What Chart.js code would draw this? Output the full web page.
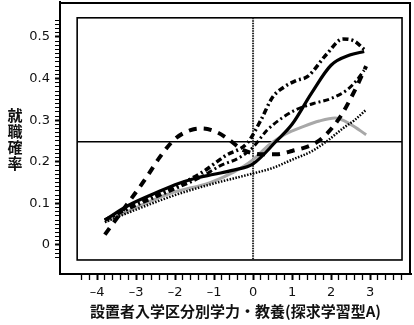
<!DOCTYPE html>
<html>
<head>
<meta charset="utf-8">
<script src="https://cdn.jsdelivr.net/npm/chart.js@4"></script>
<style>
  html, body { margin: 0; padding: 0; background: #fff; }
  #wrap { width: 414px; height: 325px; }
</style>
</head>
<body>
<div id="wrap"><canvas id="chart"></canvas></div>
<script>
/* series (x = 学力, y = 確率) */
const solidX   = [-3.8, -3.2, -2.5, -2, -1.5, -1, -0.5, 0, 0.6, 1, 1.5, 2, 2.5, 2.85];
const solidY   = [0.06, 0.095, 0.125, 0.145, 0.16, 0.17, 0.18, 0.195, 0.25, 0.29, 0.365, 0.432, 0.457, 0.465];

const dashDotX = [-3.8, -3, -2, -1.3, -0.7, -0.15, 0.2, 0.5, 0.8, 1.1, 1.4, 1.9, 2.3, 2.6, 2.85];
const dashDotY = [0.06, 0.1, 0.14, 0.175, 0.215, 0.245, 0.3, 0.355, 0.38, 0.395, 0.405, 0.46, 0.495, 0.49, 0.47];

const dashX    = [-3.8, -3.15, -2.75, -2.4, -2, -1.6, -1.3, -0.9, -0.6, -0.25, 0.25, 0.6, 1.0, 1.6, 1.9, 2.25, 2.6, 2.9];
const dashY    = [0.025, 0.108, 0.16, 0.21, 0.255, 0.276, 0.28, 0.27, 0.252, 0.228, 0.218, 0.218, 0.226, 0.245, 0.268, 0.31, 0.37, 0.43];

const dashDot2X = [-3.8, -3, -2, -1.3, -0.85, -0.35, 0, 0.35, 0.77, 1.1, 1.55, 2, 2.4, 2.65, 2.85];
const dashDot2Y = [0.06, 0.095, 0.135, 0.165, 0.19, 0.21, 0.235, 0.275, 0.307, 0.325, 0.34, 0.352, 0.372, 0.395, 0.42];

const dottedX  = [-3.8, -3, -2, -1, -0.5, 0, 0.5, 1, 1.5, 1.9, 2.3, 2.6, 2.9];
const dottedY  = [0.055, 0.085, 0.12, 0.148, 0.16, 0.172, 0.185, 0.205, 0.225, 0.25, 0.28, 0.3, 0.325];

const grayX    = [-3.8, -3, -2.1, -1.1, -0.5, 0, 0.4, 0.8, 1.3, 1.7, 2.1, 2.5, 2.9];
const grayY    = [0.055, 0.09, 0.125, 0.15, 0.175, 0.205, 0.24, 0.265, 0.285, 0.298, 0.305, 0.29, 0.265];

const xTickLabels = [-4, -3, -2, -1, 0, 1, 2, 3];
const yTickLabels = [0, 0.1, 0.2, 0.3, 0.4, 0.5];

const xTitle = "設置者入学区分別学力・教養(探求学習型A)";
const yTitle = "就職確率";

/* inner box and reference lines, in data units */
const boxX = [-4.51, 3.82];
const boxY = [-0.036, 0.546];
const refX = 0;
const refY = 0.248;

const pts = (xs, ys) => xs.map((x, i) => ({ x, y: ys[i] }));
const isMajor = (v, list) => list.some(t => Math.abs(t - v) < 1e-6);

/* ---------- plugin: frame, inner box, cross lines, vertical y title ---------- */
const frames = {
  id: "frames",
  beforeDatasetsDraw(chart) {
    const { ctx, chartArea: a, scales: { x, y } } = chart;
    ctx.save();
    ctx.strokeStyle = "#000";
    ctx.lineWidth = 2;
    ctx.strokeRect(a.left, a.top + 1, a.right - a.left - 1, a.bottom - a.top - 1);

    const l = x.getPixelForValue(boxX[0]), r = x.getPixelForValue(boxX[1]);
    const t = y.getPixelForValue(boxY[1]), b = y.getPixelForValue(boxY[0]);
    ctx.lineWidth = 1.6;
    ctx.strokeRect(l, t, r - l, b - t);

    // horizontal reference
    const hy = y.getPixelForValue(refY);
    ctx.beginPath(); ctx.moveTo(l, hy); ctx.lineTo(r, hy); ctx.stroke();

    // vertical reference (stippled)
    const vx = x.getPixelForValue(refX);
    ctx.strokeStyle = "#222";
    ctx.lineWidth = 2;
    ctx.setLineDash([1.5, 1]);
    ctx.beginPath(); ctx.moveTo(vx, t); ctx.lineTo(vx, b); ctx.stroke();
    ctx.restore();
  },
  afterDraw(chart) {
    const { ctx } = chart;
    ctx.save();
    ctx.fillStyle = "#111";
    ctx.font = "bold 15px 'Noto Sans CJK JP'";
    ctx.textAlign = "center";
    ctx.textBaseline = "middle";
    [...yTitle].forEach((ch, i) => ctx.fillText(ch, 15, 115 + i * 16));
    ctx.restore();
  }
};

function makeTicks(from, to, step) {
  const out = [];
  const n = Math.round((to - from) / step);
  for (let i = 0; i <= n; i++) out.push({ value: +(from + i * step).toFixed(4) });
  return out;
}

function noPad(s) {
  s.paddingTop = 0; s.paddingBottom = 0;
  s.paddingLeft = 0; s.paddingRight = 0;
}

const line = (data, style) => Object.assign({
  data,
  borderColor: "#000",
  borderWidth: 3,
  pointRadius: 0,
  fill: false,
  cubicInterpolationMode: "monotone",
  borderCapStyle: "butt"
}, style);

new Chart(document.getElementById("chart"), {
  type: "line",
  data: {
    datasets: [
      line(pts(solidX, solidY), { borderWidth: 3.2 }),
      line(pts(dashDotX, dashDotY), { borderWidth: 3.5, borderDash: [6, 3, 2, 3] }),
      line(pts(dashX, dashY), { borderWidth: 4, borderDash: [8, 7] }),
      line(pts(dashDot2X, dashDot2Y), { borderWidth: 3, borderDash: [6, 3, 2, 3] }),
      line(pts(dottedX, dottedY), { borderWidth: 2.5, borderDash: [1.5, 1.5] }),
      line(pts(grayX, grayY), { borderColor: "#a8a8a8", borderWidth: 3 })
    ]
  },
  options: {
    responsive: true,
    maintainAspectRatio: false,
    animation: false,
    layout: { padding: { top: 2, right: 3, left: 0, bottom: 0 } },
    plugins: { legend: { display: false }, tooltip: { enabled: false } },
    scales: {
      x: {
        type: "linear",
        min: -4.95,
        max: 4.05,
        border: { display: true, color: "#000", width: 2 },
        grid: {
          drawOnChartArea: false,
          drawTicks: true,
          tickLength: 6,
          color: "#000",
          tickWidth: c => isMajor(c.tick.value, xTickLabels) ? 2 : 1.3
        },
        ticks: {
          autoSkip: false,
          maxRotation: 0,
          padding: 5,
          color: "#111",
          font: { family: "DejaVu Sans", size: 13 },
          callback: v => isMajor(v, xTickLabels) ? String(Math.round(v)).replace("-", "–") : ""
        },
        title: {
          display: true,
          text: xTitle,
          color: "#111",
          font: { family: "Noto Sans CJK JP", size: 15, weight: "bold" },
          padding: { top: 0, bottom: 5 }
        },
        afterBuildTicks: s => { s.ticks = makeTicks(-4.4, 3.8, 0.2); },
        afterFit: s => { s.height = 51; noPad(s); }
      },
      y: {
        min: -0.0697,
        max: 0.584,
        border: { display: true, color: "#000", width: 2 },
        grid: {
          drawOnChartArea: false,
          drawTicks: true,
          tickLength: 5,
          color: "#000",
          tickWidth: c => isMajor(c.tick.value, yTickLabels) ? 2 : 1
        },
        ticks: {
          autoSkip: false,
          padding: 5,
          color: "#111",
          font: { family: "DejaVu Sans", size: 13 },
          callback: v => isMajor(v, yTickLabels) ? (Math.abs(v) < 1e-6 ? "0" : v.toFixed(1)) : ""
        },
        afterBuildTicks: s => { s.ticks = makeTicks(-0.03, 0.54, 0.01); },
        afterFit: s => { s.width = 60; noPad(s); }
      }
    }
  },
  plugins: [frames]
});
</script>
</body>
</html>
